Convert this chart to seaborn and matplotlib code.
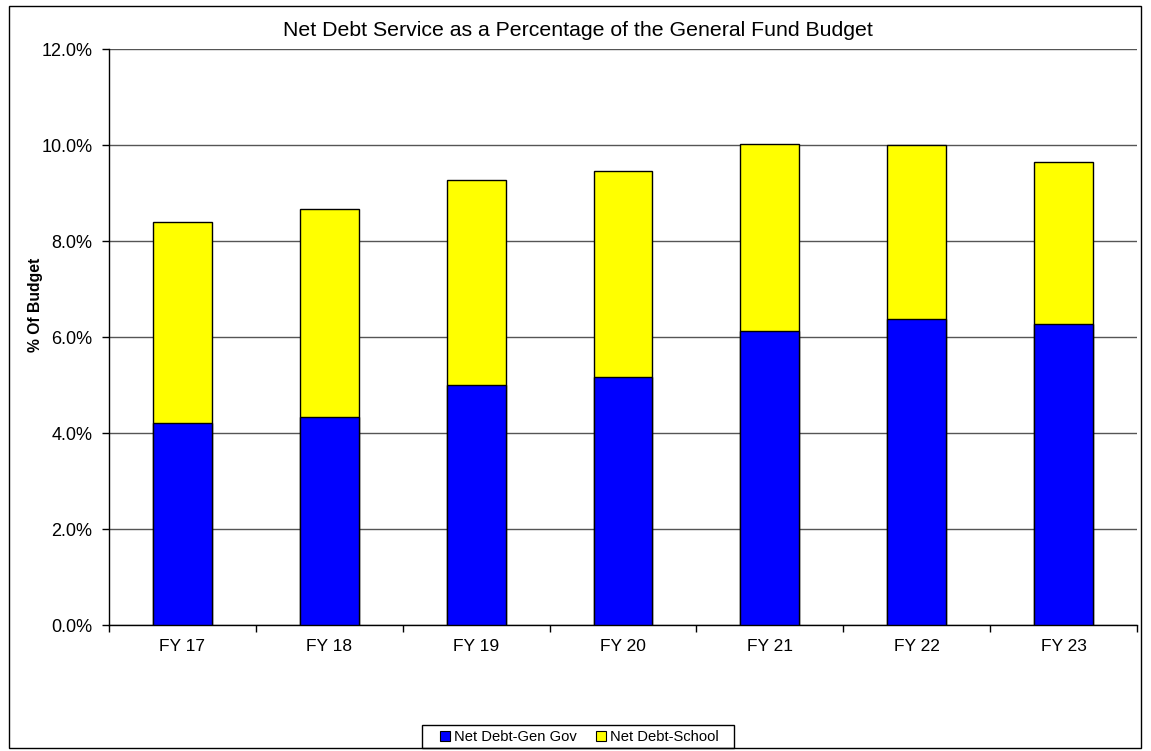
import pandas as pd
import matplotlib.pyplot as plt
import seaborn as sns
from matplotlib.patches import Rectangle
from matplotlib.ticker import PercentFormatter

years = ["FY 17", "FY 18", "FY 19", "FY 20", "FY 21", "FY 22", "FY 23"]
gen_gov = [4.20, 4.33, 4.99, 5.16, 6.12, 6.38, 6.27]
school = [4.20, 4.34, 4.29, 4.30, 3.91, 3.61, 3.38]

df = pd.DataFrame({"year": years, "gen_gov": gen_gov, "school": school})
df["total"] = df["gen_gov"] + df["school"]

sns.set_style("white")
plt.rcParams["font.family"] = ["Liberation Sans", "DejaVu Sans"]
plt.rcParams["text.color"] = "black"
plt.rcParams["xtick.color"] = "black"
plt.rcParams["ytick.color"] = "black"
plt.rcParams["axes.labelcolor"] = "black"

fig = plt.figure(figsize=(11.51, 7.51), dpi=100)
ax = fig.add_axes([109 / 1151, 1 - 625 / 751, 1028 / 1151, 576 / 751])

# stacked look: draw totals in yellow, then gen gov in blue over them
sns.barplot(data=df, x="year", y="total", color="#FFFF00", saturation=1,
            width=0.4, edgecolor="black", linewidth=1, ax=ax, zorder=3)
sns.barplot(data=df, x="year", y="gen_gov", color="#0000FF", saturation=1,
            width=0.4, edgecolor="black", linewidth=1, ax=ax, zorder=4)

ax.set_ylim(0, 12)
ax.set_xlim(-0.5, len(years) - 0.5)
ax.set_yticks(range(0, 13, 2))
ax.yaxis.set_major_formatter(PercentFormatter(decimals=1))
ax.grid(axis="y", color="#555555", linewidth=1, zorder=0)
ax.set_axisbelow(True)

ax.set_xlabel("")
ax.set_ylabel("% Of Budget", fontsize=11.3, fontweight="bold")
ax.yaxis.set_label_coords(-0.064, 0.556)
ax.tick_params(axis="y", length=5, width=1, color="black", labelsize=13, left=True, pad=7)
ax.tick_params(axis="x", which="major", length=0, labelsize=12.5, pad=10)
ax.set_xticks([i - 0.5 for i in range(len(years) + 1)], minor=True)
ax.tick_params(axis="x", which="minor", length=5, width=1, color="black", bottom=True)

for s in ["top", "right"]:
    ax.spines[s].set_visible(False)
for s in ["left", "bottom"]:
    ax.spines[s].set_color("black")
    ax.spines[s].set_linewidth(1)

fig.text(0.502, 1 - 31 / 751, "Net Debt Service as a Percentage of the General Fund Budget",
         ha="center", va="center", fontsize=15.3)

handles = [Rectangle((0, 0), 1, 1, facecolor="#0000FF", edgecolor="black", linewidth=0.8),
           Rectangle((0, 0), 1, 1, facecolor="#FFFF00", edgecolor="black", linewidth=0.8)]
fig.legend(handles, ["Net Debt-Gen Gov", "Net Debt-School"], loc="center",
           bbox_to_anchor=(579 / 1151, 1 - 737 / 751), ncol=2, fontsize=10.6,
           frameon=False, handlelength=0.7, handleheight=0.7, handletextpad=0.25,
           columnspacing=1.3, borderpad=0, borderaxespad=0)
# legend box drawn by hand so it can be wider than its text
fig.patches.append(Rectangle((422 / 1151, 1 - 748 / 751), 312 / 1151, 23 / 751,
                             transform=fig.transFigure, fill=False, edgecolor="black",
                             linewidth=1, zorder=5))

fig.patches.append(Rectangle((9 / 1151, 1 - 748 / 751), 1132 / 1151, 742 / 751,
                             transform=fig.transFigure, fill=False, edgecolor="black",
                             linewidth=1, zorder=0))

plt.savefig("out.png", dpi=100)
